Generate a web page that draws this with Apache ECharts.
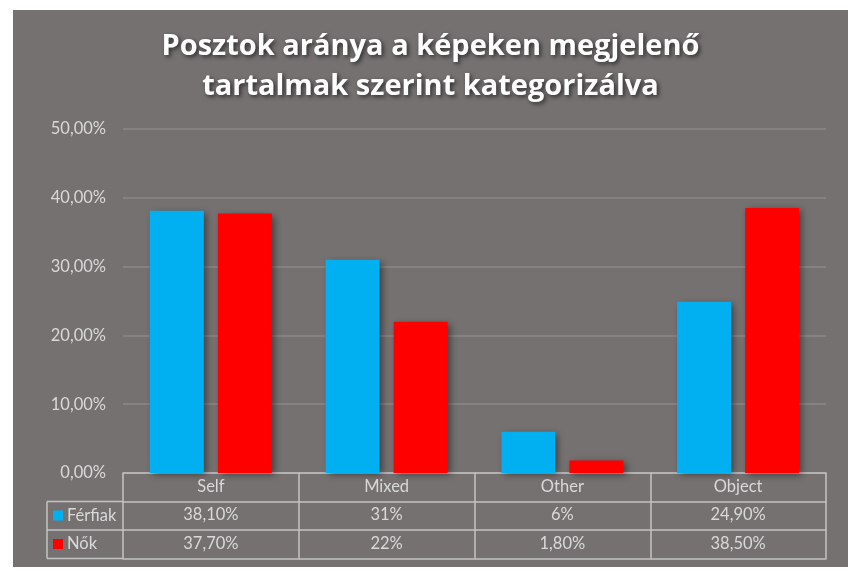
<!DOCTYPE html>
<html>
<head>
<meta charset="utf-8">
<script src="https://cdn.jsdelivr.net/npm/echarts@6/dist/echarts.min.js"></script>
<style>
html,body{margin:0;padding:0;background:#fff;width:865px;height:582px;overflow:hidden;}
#chart{position:absolute;left:13px;top:10px;width:835px;height:557px;}
</style>
</head>
<body>
<div id="chart"></div>
<script>
const categories = ['Self', 'Mixed', 'Other', 'Object'];
const ferfiak = [38.1, 31, 6, 24.9];
const nok = [37.7, 22, 1.8, 38.5];
const ferfiakLabels = ['38,10%', '31%', '6%', '24,90%'];
const nokLabels = ['37,70%', '22%', '1,80%', '38,50%'];
const seriesNames = ['Férfiak', 'Nők'];
const titleText = 'Posztok aránya a képeken megjelenő\ntartalmak szerint kategorizálva';

const FONT = 'Lato';
const TXT = '#d9d9d9';
const BORDER = '#c4c4c4';
const GRID = {left: 110, right: 22, top: 119, bottom: 94};
const ROW = 28.5;
const H = 557;
const axisBottomY = H - GRID.bottom;
const legendLeftX = 34;

function tableAxis(data, offset, showTicks) {
  return {
    type: 'category', data: data, position: 'bottom', offset: offset,
    axisLine: {show: true, lineStyle: {color: BORDER, width: 1.5}},
    axisTick: {show: showTicks, interval: 0, length: ROW, lineStyle: {color: BORDER, width: 1.5}},
    axisLabel: {show: showTicks, interval: 0, color: TXT, fontFamily: FONT, fontSize: 16.5, margin: 5},
    splitLine: {show: false}
  };
}

const chart = echarts.init(document.getElementById('chart'));
chart.setOption({
  backgroundColor: '#767171',
  animation: false,
  title: {
    text: titleText, left: 'center', top: 17, padding: 0,
    textStyle: {
      color: '#ffffff', fontFamily: 'Open Sans', fontWeight: 'bold', fontSize: 29, lineHeight: 40,
      textShadowColor: 'rgba(0,0,0,0.6)', textShadowBlur: 4, textShadowOffsetX: 2, textShadowOffsetY: 2
    }
  },
  legend: {
    orient: 'vertical', left: 40, top: axisBottomY + ROW + 4, padding: 0,
    itemWidth: 10, itemHeight: 10, itemGap: 8.5, icon: 'rect',
    data: seriesNames,
    textStyle: {color: TXT, fontFamily: FONT, fontSize: 16.5, lineHeight: 20, padding: [0, 0, 0, -1]}
  },
  grid: GRID,
  xAxis: [
    tableAxis(categories, 0, true),
    tableAxis(ferfiakLabels, ROW, true),
    tableAxis(nokLabels, ROW * 2, true),
    tableAxis(categories, ROW * 3, false)
  ],
  yAxis: {
    type: 'value', min: 0, max: 50, interval: 10,
    axisLine: {show: false}, axisTick: {show: false},
    axisLabel: {color: TXT, fontFamily: FONT, fontSize: 16.5, margin: 17,
      formatter: v => v.toFixed(2).replace('.', ',') + '%'},
    splitLine: {lineStyle: {color: '#8c8888', width: 1.5}}
  },
  series: [
    {name: seriesNames[0], type: 'bar', data: ferfiak, barWidth: 54, barGap: '26%',
     itemStyle: {color: '#00b0f0', shadowColor: 'rgba(0,0,0,0.45)', shadowBlur: 7, shadowOffsetX: 3, shadowOffsetY: 2}},
    {name: seriesNames[1], type: 'bar', data: nok, barWidth: 54, barGap: '26%',
     itemStyle: {color: '#ff0000', shadowColor: 'rgba(0,0,0,0.45)', shadowBlur: 7, shadowOffsetX: 3, shadowOffsetY: 2}}
  ],
  graphic: [1, 2, 3].map(i => ({
    type: 'line', silent: true,
    shape: {x1: legendLeftX, y1: axisBottomY + ROW * i, x2: GRID.left, y2: axisBottomY + ROW * i},
    style: {stroke: BORDER, lineWidth: 1.5}
  })).concat([{
    type: 'line', silent: true,
    shape: {x1: legendLeftX, y1: axisBottomY + ROW, x2: legendLeftX, y2: axisBottomY + ROW * 3},
    style: {stroke: BORDER, lineWidth: 1.5}
  }])
});
</script>
</body>
</html>
